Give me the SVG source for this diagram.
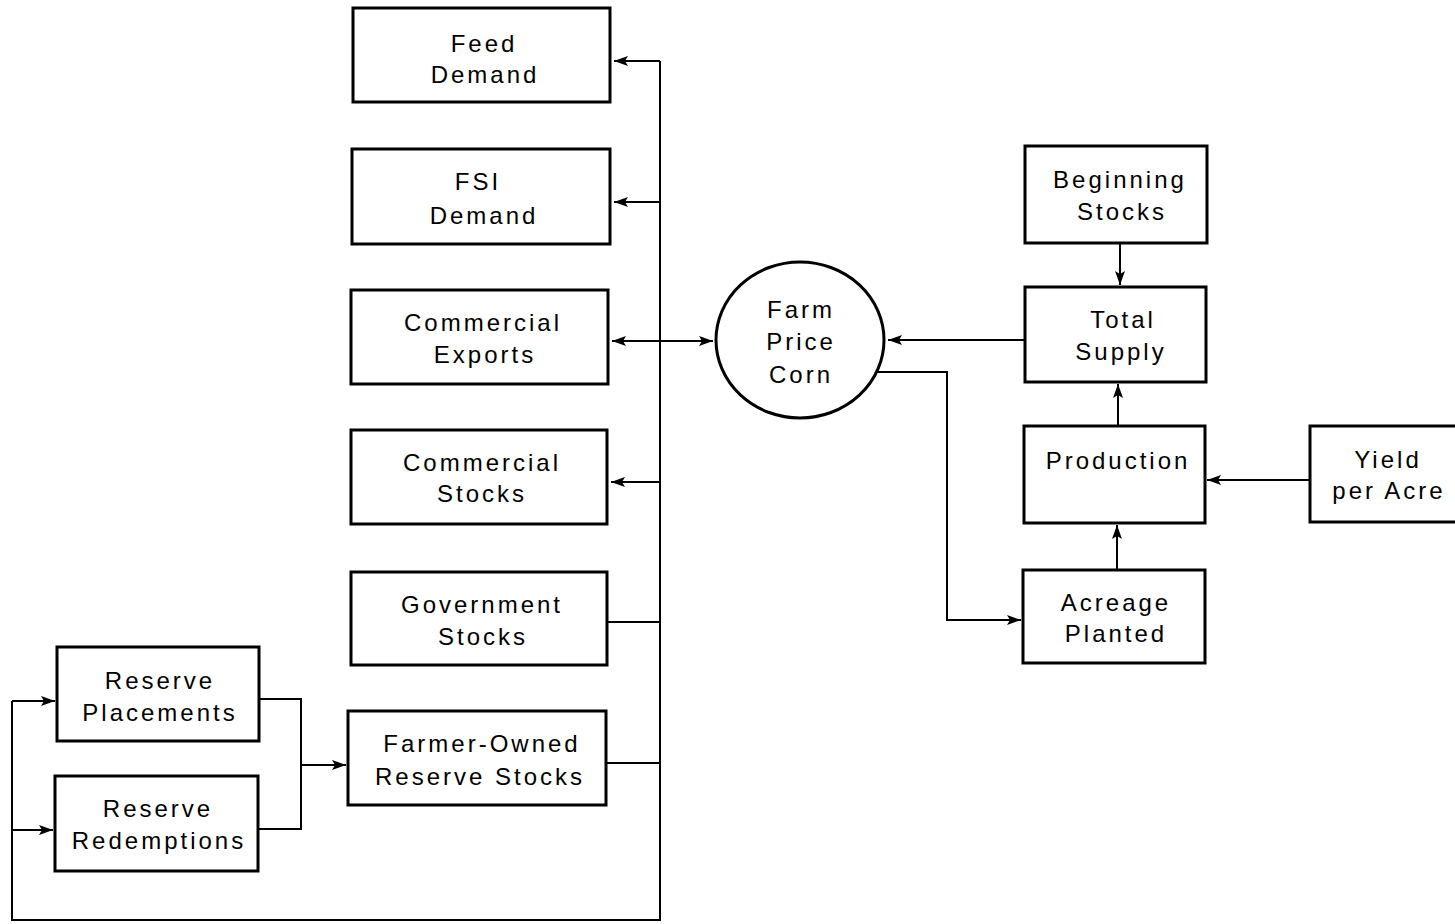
<svg xmlns="http://www.w3.org/2000/svg" width="1455" height="924" viewBox="0 0 1455 924">
<style>
.box{fill:#fff;stroke:#000;stroke-width:3}
.t{font-family:"Liberation Sans",Arial,sans-serif;font-size:24px;letter-spacing:3px;text-anchor:middle;fill:#000}
.c{fill:none;stroke:#000;stroke-width:2}
</style>
<defs>
<marker id="ah" viewBox="0 0 14 10" refX="14" refY="5" markerWidth="14" markerHeight="10" markerUnits="userSpaceOnUse" orient="auto-start-reverse">
<path d="M0,0 L14,5 L0,10 L3,5 Z" fill="#000"/>
</marker>
</defs>
<rect width="1455" height="924" fill="#fff"/>
<g id="connectors">
<path class="c" d="M660,61 V920 H12 V701"/>
<path class="c" d="M660,61 H614" marker-end="url(#ah)"/>
<path class="c" d="M660,202 H614" marker-end="url(#ah)"/>
<path class="c" d="M612,341 H713" marker-start="url(#ah)" marker-end="url(#ah)"/>
<path class="c" d="M660,482 H611" marker-end="url(#ah)"/>
<path class="c" d="M607,622 H660"/>
<path class="c" d="M606,763 H660"/>
<path class="c" d="M259,699 H301 V829 H258"/>
<path class="c" d="M301,765 H346" marker-end="url(#ah)"/>
<path class="c" d="M12,701 H55" marker-end="url(#ah)"/>
<path class="c" d="M12,830 H53" marker-end="url(#ah)"/>
<path class="c" d="M1025,340 H888" marker-end="url(#ah)"/>
<path class="c" d="M877,372 H947 V620 H1021" marker-end="url(#ah)"/>
<path class="c" d="M1120,243 V285" marker-end="url(#ah)"/>
<path class="c" d="M1118,426 V384" marker-end="url(#ah)"/>
<path class="c" d="M1117,570 V525" marker-end="url(#ah)"/>
<path class="c" d="M1310,480 H1207" marker-end="url(#ah)"/>
</g>
<g id="feed-demand"><rect class="box" x="353" y="8" width="257" height="94"/><text class="t" x="484" y="52">Feed</text><text class="t" x="485" y="83">Demand</text></g>
<g id="fsi-demand"><rect class="box" x="352" y="149" width="258" height="95"/><text class="t" x="478" y="190">FSI</text><text class="t" x="484" y="224">Demand</text></g>
<g id="commercial-exports"><rect class="box" x="351" y="290" width="257" height="94"/><text class="t" x="483" y="331">Commercial</text><text class="t" x="485" y="363">Exports</text></g>
<g id="commercial-stocks"><rect class="box" x="351" y="430" width="256" height="94"/><text class="t" x="482" y="471">Commercial</text><text class="t" x="482" y="502">Stocks</text></g>
<g id="government-stocks"><rect class="box" x="351" y="572" width="256" height="93"/><text class="t" x="482" y="613">Government</text><text class="t" x="483" y="645">Stocks</text></g>
<g id="farmer-owned"><rect class="box" x="348" y="711" width="258" height="94"/><text class="t" x="482" y="752">Farmer-Owned</text><text class="t" x="480" y="785">Reserve Stocks</text></g>
<g id="reserve-placements"><rect class="box" x="57" y="647" width="202" height="94"/><text class="t" x="160" y="689">Reserve</text><text class="t" x="160" y="721">Placements</text></g>
<g id="reserve-redemptions"><rect class="box" x="55" y="776" width="203" height="95"/><text class="t" x="158" y="817">Reserve</text><text class="t" x="159" y="849">Redemptions</text></g>
<g id="farm-price-corn"><ellipse class="box" cx="800" cy="340" rx="84" ry="78"/><text class="t" x="801" y="318">Farm</text><text class="t" x="801" y="350">Price</text><text class="t" x="801" y="383">Corn</text></g>
<g id="beginning-stocks"><rect class="box" x="1025" y="146" width="182" height="97"/><text class="t" x="1120" y="188">Beginning</text><text class="t" x="1122" y="220">Stocks</text></g>
<g id="total-supply"><rect class="box" x="1025" y="287" width="181" height="95"/><text class="t" x="1123" y="328">Total</text><text class="t" x="1121" y="360">Supply</text></g>
<g id="production"><rect class="box" x="1024" y="426" width="181" height="97"/><text class="t" x="1118" y="469">Production</text></g>
<g id="acreage-planted"><rect class="box" x="1023" y="570" width="182" height="93"/><text class="t" x="1116" y="611">Acreage</text><text class="t" x="1116" y="642">Planted</text></g>
<g id="yield-per-acre"><rect class="box" x="1310" y="426" width="160" height="96"/><text class="t" x="1388" y="468">Yield</text><text class="t" x="1389" y="499">per Acre</text></g>
</svg>
